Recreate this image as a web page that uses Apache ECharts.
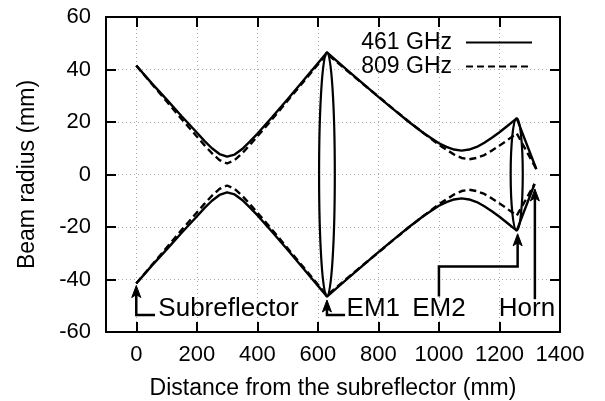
<!DOCTYPE html>
<html>
<head>
<meta charset="utf-8">
<script src="https://cdn.jsdelivr.net/npm/echarts@6/dist/echarts.min.js"></script>
<style>
html,body{margin:0;padding:0;background:#fff;}
#beamChart{width:605px;height:401px;}
</style>
</head>
<body>
<div id="beamChart"></div>
<script>
var xTicks = [0, 200, 400, 600, 800, 1000, 1200, 1400];

// upper beam envelope (mm) along the path; lower side is the mirror image
var dist461 = [0, 50, 100, 150, 200, 225, 250, 275, 300, 325, 350, 375, 400, 450, 500, 550, 600, 630,
	700, 750, 800, 850, 900, 950, 1000, 1025, 1050, 1075, 1100, 1125, 1150, 1175, 1200, 1225, 1257];
var radius461 = [41.5, 34.9, 28.6, 22.2, 16.0, 12.8, 10.0, 7.8, 6.8, 7.6, 9.7, 12.5, 15.5, 22.0, 28.7, 35.5, 42.4, 46.5,
	39.5, 34.5, 29.6, 24.8, 20.1, 15.7, 11.9, 10.5, 9.5, 9.1, 9.5, 10.5, 12.1, 14.0, 16.1, 18.4, 21.4];

var dist809 = [0, 50, 100, 150, 200, 225, 250, 275, 300, 325, 350, 375, 400, 450, 500, 550, 600, 630,
	700, 750, 800, 850, 900, 950, 1000, 1050, 1075, 1100, 1125, 1150, 1175, 1200, 1225, 1257];
var radius809 = [41.5, 34.7, 27.9, 21.1, 14.5, 11.2, 8.1, 5.5, 4.2, 5.5, 8.1, 11.2, 14.5, 21.2, 28.1, 35.0, 41.9, 46.0,
	39.2, 34.4, 29.7, 24.9, 20.2, 15.7, 11.3, 7.6, 6.3, 5.8, 6.3, 7.4, 9.1, 11.0, 13.0, 15.7];

// beam at the horn aperture
var hornUpper = [1322, 2.0];
var hornLower = [1316, -3.6];

// mirrors drawn as thin ellipses
var mirrorDist = [630, 1257];
var mirrorTop = [46.5, 21.4];
var mirrorBottom = [-46.4, -21.3];
var mirrorHalfWidth = [26, 20];

// labels with arrows
var noteLabels = ['Subreflector', 'EM1', 'EM2', 'Horn'];
var noteAnchor = [[73, -51.0], [695, -51.0], [1000, -51.0], [1291, -51.0]];
var noteAlign = ['left', 'left', 'center', 'center'];
var notePaths = [
	[[62, -53.5], [0, -53.5], [0, -42.3]],
	[[690, -53.5], [630, -53.5], [630, -47.8]],
	[[1000, -46.5], [1000, -35], [1260, -35], [1260, -22.6]],
	[[1317, -47.5], [1317, -5.5]]
];

var FONT = 'Liberation Sans, Arial, Helvetica, sans-serif';

function upperData(d, r, end) {
	var out = [];
	for (var i = 0; i < d.length; i++) out.push([d[i], r[i]]);
	out.push(end);
	return out;
}
function lowerData(d, r, end) {
	var out = [];
	for (var i = 0; i < d.length; i++) out.push([d[i], -r[i]]);
	out.push(end);
	return out;
}

function beamSeries(name, data, dashed) {
	return {
		name: name,
		type: 'line',
		data: data,
		symbol: 'none',
		showSymbol: false,
		silent: true,
		z: 4,
		itemStyle: { color: '#000' },
		lineStyle: {
			color: '#000',
			width: 2.4,
			type: dashed ? [7, 4] : 'solid'
		}
	};
}

var chart = echarts.init(document.getElementById('beamChart'));

var option = {
	animation: false,
	backgroundColor: '#fff',
	grid: { left: 106, right: 45, top: 17, bottom: 69, outerBoundsMode: 'none', containLabel: false },
	legend: {
		data: ['461 GHz', '809 GHz'],
		orient: 'vertical',
		align: 'right',
		right: 67,
		top: 26,
		itemWidth: 66,
		itemHeight: 10,
		itemGap: 1,
		itemStyle: { opacity: 0 },
		textStyle: { fontSize: 23, fontFamily: FONT, color: '#000', padding: [0, 9, 0, 0] }
	},
	xAxis: [{
		type: 'value',
		min: -100,
		max: 1400,
		name: 'Distance from the subreflector (mm)',
		nameLocation: 'middle',
		nameGap: 45,
		nameTextStyle: { fontSize: 23, fontFamily: FONT, color: '#000' },
		axisLine: { show: true, onZero: false, lineStyle: { color: '#000', width: 2 } },
		axisTick: { show: true, inside: true, length: 10, customValues: xTicks, lineStyle: { color: '#000', width: 2 } },
		axisLabel: {
			show: true, customValues: xTicks, margin: 12, fontSize: 22, fontFamily: FONT, color: '#000',
			formatter: function (v) { return String(v); }
		},
		splitLine: { show: true, lineStyle: { color: '#aaa', width: 1, type: [1, 3] } }
	}, {
		type: 'value',
		position: 'top',
		min: -100,
		max: 1400,
		axisLine: { show: true, onZero: false, lineStyle: { color: '#000', width: 2 } },
		axisTick: { show: true, inside: true, length: 10, customValues: xTicks, lineStyle: { color: '#000', width: 2 } },
		axisLabel: { show: false },
		splitLine: { show: false }
	}],
	yAxis: [{
		type: 'value',
		min: -60,
		max: 60,
		interval: 20,
		name: 'Beam radius (mm)',
		nameLocation: 'middle',
		nameGap: 67,
		nameTextStyle: { fontSize: 23, fontFamily: FONT, color: '#000' },
		axisLine: { show: true, onZero: false, lineStyle: { color: '#000', width: 2 } },
		axisTick: { show: true, inside: true, length: 10, lineStyle: { color: '#000', width: 2 } },
		axisLabel: { margin: 15, fontSize: 22, fontFamily: FONT, color: '#000' },
		splitLine: { show: true, lineStyle: { color: '#aaa', width: 1, type: [1, 3] } }
	}, {
		type: 'value',
		position: 'right',
		min: -60,
		max: 60,
		interval: 20,
		axisLine: { show: true, onZero: false, lineStyle: { color: '#000', width: 2 } },
		axisTick: { show: true, inside: true, length: 10, lineStyle: { color: '#000', width: 2 } },
		axisLabel: { show: false },
		splitLine: { show: false }
	}],
	series: [
		beamSeries('461 GHz', upperData(dist461, radius461, hornUpper), false),
		beamSeries('809 GHz', upperData(dist809, radius809, hornUpper), true),
		beamSeries('461 GHz', lowerData(dist461, radius461, hornLower), false),
		beamSeries('809 GHz', lowerData(dist809, radius809, hornLower), true),
		{
			type: 'custom',
			silent: true,
			clip: false,
			z: 5,
			data: mirrorDist.map(function (d, i) {
				return [d, mirrorTop[i], mirrorBottom[i], mirrorHalfWidth[i]];
			}),
			encode: { x: 0, y: [1, 2] },
			renderItem: function (params, api) {
				var top = api.coord([api.value(0), api.value(1)]);
				var bot = api.coord([api.value(0), api.value(2)]);
				var rx = api.size([api.value(3), 0])[0];
				return {
					type: 'ellipse',
					shape: { cx: top[0], cy: (top[1] + bot[1]) / 2, rx: rx, ry: (bot[1] - top[1]) / 2 },
					style: { fill: 'none', stroke: '#000', lineWidth: 2.2 }
				};
			}
		},
		{
			type: 'custom',
			silent: true,
			clip: false,
			z: 6,
			data: noteAnchor.map(function (p, i) { return [p[0], p[1], i]; }),
			encode: { x: 0, y: 1 },
			renderItem: function (params, api) {
				var i = params.dataIndex;
				var pts = notePaths[i].map(function (p) { return api.coord(p); });
				var tip = pts[pts.length - 1];
				var prev = pts[pts.length - 2];
				var ang = Math.atan2(tip[1] - prev[1], tip[0] - prev[0]);
				var ca = Math.cos(ang), sa = Math.sin(ang);
				function rot(a, b) { return [tip[0] + a * ca - b * sa, tip[1] + a * sa + b * ca]; }
				var linePts = pts.slice(0, pts.length - 1);
				linePts.push(rot(-6, 0));
				var anchor = api.coord(noteAnchor[i]);
				return {
					type: 'group',
					children: [{
						type: 'polyline',
						shape: { points: linePts },
						style: { fill: 'none', stroke: '#000', lineWidth: 2.5 }
					}, {
						type: 'polygon',
						shape: { points: [rot(0, 0), rot(-12, -4.5), rot(-9, 0), rot(-12, 4.5)] },
						style: { fill: '#000', stroke: '#000', lineWidth: 1 }
					}, {
						type: 'text',
						x: anchor[0],
						y: anchor[1],
						style: {
							text: noteLabels[i],
							fontSize: 26,
							fontFamily: FONT,
							fill: '#000',
							align: noteAlign[i],
							verticalAlign: 'middle'
						}
					}]
				};
			}
		}
	]
};

chart.setOption(option);
</script>
</body>
</html>
